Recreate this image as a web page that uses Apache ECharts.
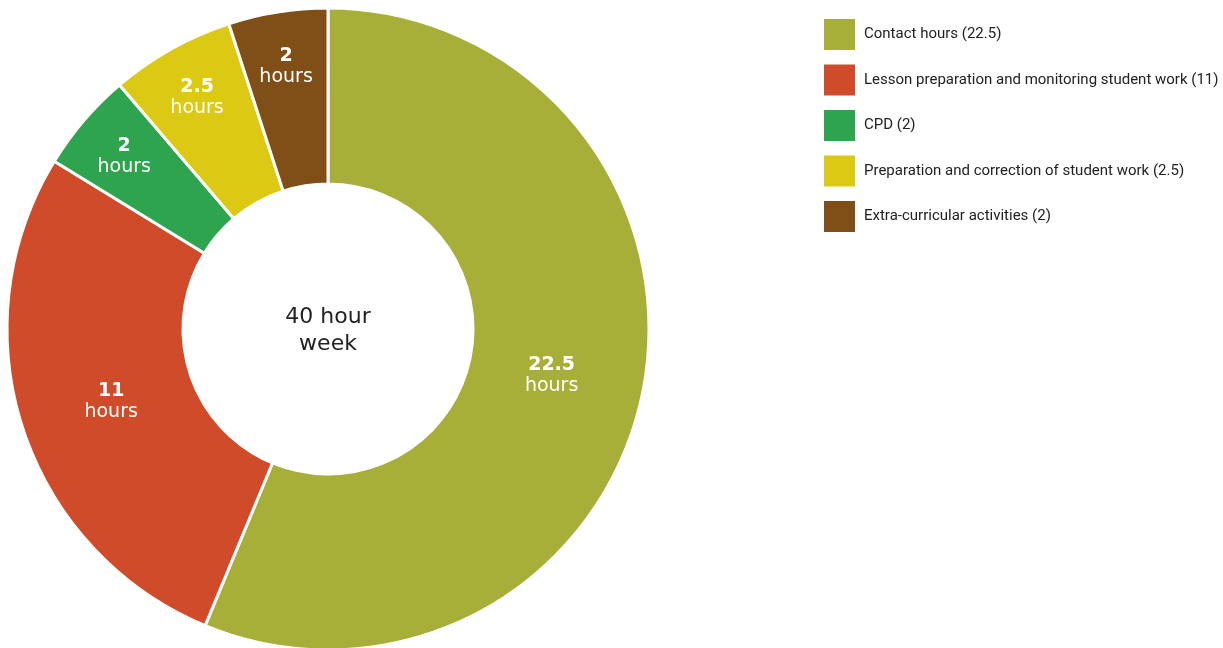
<!DOCTYPE html>
<html>
<head>
<meta charset="utf-8">
<script src="https://cdn.jsdelivr.net/npm/echarts@6/dist/echarts.min.js"></script>
<style>html,body{margin:0;padding:0;background:#fff}#c{width:1223px;height:648px}</style>
</head>
<body>
<div id="c"></div>
<script>
const categories = ["Contact hours", "Lesson preparation and monitoring student work", "CPD", "Preparation and correction of student work", "Extra-curricular activities"];
const values = [22.5, 11, 2, 2.5, 2];
const colors = ["#A8AF38", "#CF4B2A", "#2EA44E", "#DCC913", "#7F4F17"];
const centerText = "40 hour\nweek";
const unitText = "hours";

const CX = 328, CY = 329;
const chart = echarts.init(document.getElementById('c'), null, {renderer: 'canvas'});
const data = categories.map((c, i) => ({name: c, value: values[i], itemStyle: {color: colors[i]}}));
chart.setOption({
  animation: false,
  legend: {
    orient: 'vertical',
    left: 824,
    top: 19,
    padding: 0,
    itemWidth: 31,
    itemHeight: 31,
    itemGap: 14.5,
    icon: 'rect',
    itemStyle: {borderWidth: 0},
    selectedMode: false,
    formatter: function (name) {
      const i = categories.indexOf(name);
      return name + ' (' + values[i] + ')';
    },
    textStyle: {fontFamily: 'Roboto', fontSize: 15, color: '#222', padding: [0, 0, 0, 4]},
    data: categories
  },
  graphic: [{
    type: 'text',
    x: CX,
    y: CY + 2,
    style: {
      text: centerText,
      fontFamily: 'DejaVu Sans',
      fontSize: 22,
      lineHeight: 27,
      fill: '#222',
      align: 'center',
      verticalAlign: 'middle'
    }
  }],
  series: [{
    type: 'pie',
    center: [CX, CY],
    radius: [145, 321],
    startAngle: 90,
    clockwise: true,
    data: data,
    itemStyle: {borderColor: '#fff', borderWidth: 3},
    label: {
      show: true,
      position: 'inside',
      formatter: function (p) { return '{v|' + p.value + '}\n{u|' + unitText + '}'; },
      rich: {
        v: {fontFamily: 'DejaVu Sans', fontWeight: 'bold', fontSize: 19, color: '#fff', lineHeight: 21, align: 'center'},
        u: {fontFamily: 'DejaVu Sans', fontSize: 19, color: '#fff', lineHeight: 21, align: 'center'}
      }
    },
    labelLayout: function (params) {
      const r = params.labelRect;
      const lx = r.x + r.width / 2, ly = r.y + r.height / 2;
      const dx = lx - CX, dy = ly - CY;
      const d = Math.sqrt(dx * dx + dy * dy);
      const target = values[params.dataIndex] < 5 ? 268 : 228;
      const k = target / d;
      return {dx: dx * k - dx, dy: dy * k - dy + 2};
    },
    labelLine: {show: false},
    emphasis: {disabled: true}
  }]
});
</script>
</body>
</html>
